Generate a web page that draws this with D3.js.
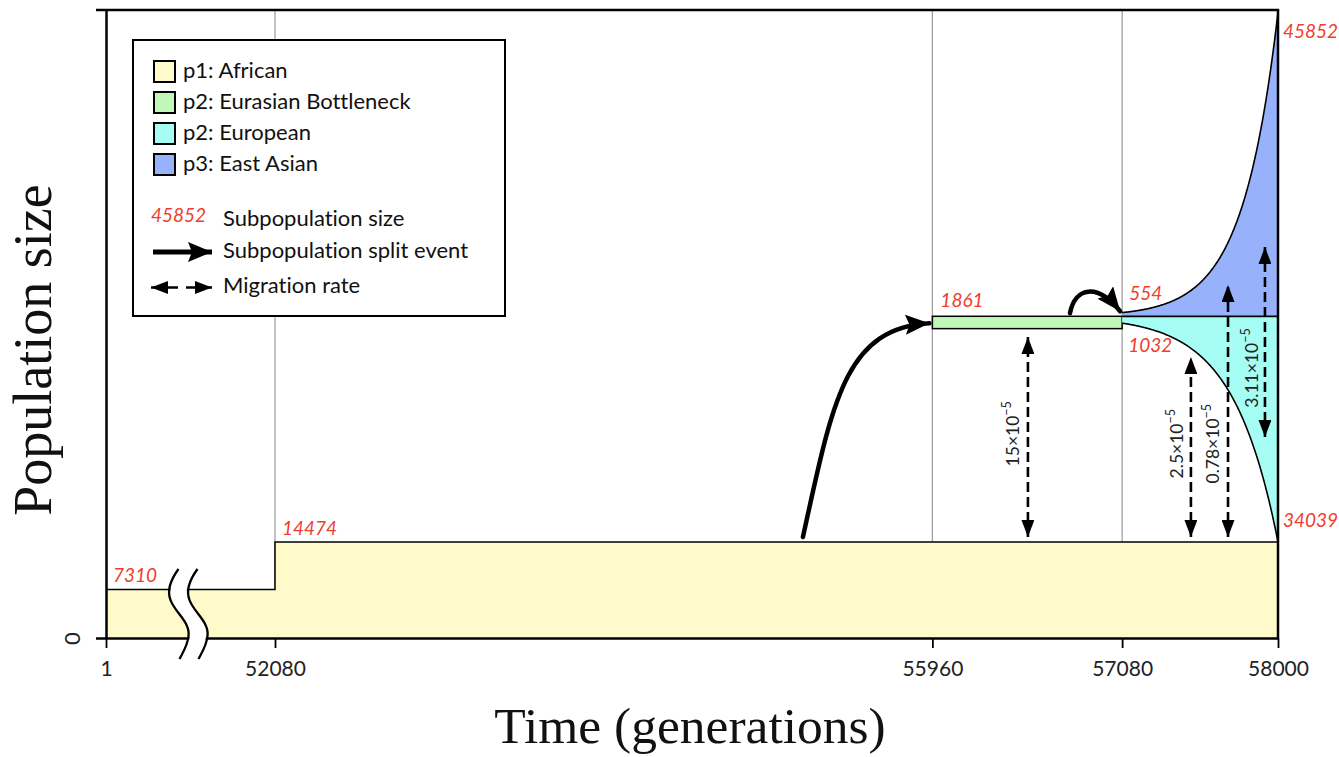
<!DOCTYPE html>
<html>
<head>
<meta charset="utf-8">
<script src="https://cdn.jsdelivr.net/npm/d3@7"></script>
<style>
  html, body { margin: 0; padding: 0; background: #fff; }
  svg { display: block; }
  text { font-variant-ligatures: none; font-feature-settings: "liga" 0, "clig" 0; }
  .sans { font-family: Lato, "Noto Sans", sans-serif; }
  .serif { font-family: "Liberation Serif", "DejaVu Serif", serif; }
  .size-label { font-family: Lato, "Noto Sans", sans-serif; font-style: italic; fill: #ef3e2c; font-size: 19px; }
</style>
</head>
<body>
<script>
// ---- Model data ----------------------------------------------------------
const tickTimes = [1, 52080, 55960, 57080, 58000];          // generation boundaries
const p1Times = [1, 52080, 58000];                          // p1 epochs (step)
const p1Sizes = [7310, 14474, 14474];
const bottleneckTimes = [55960, 57080];                     // p2 Eurasian bottleneck
const bottleneckSize = 1861;
const growthTimes = [57080, 58000];                         // exponential growth phase
const europeanSizes = [1032, 34039];                        // p2: European
const eastAsianSizes = [554, 45852];                        // p3: East Asian
const migrationRates = ["15", "2.5", "0.78", "3.11"];       // ×10^-5
const legendNames = ["p1: African", "p2: Eurasian Bottleneck", "p2: European", "p3: East Asian"];
const legendColors = ["#fffac9", "#c0f8b8", "#a6fdf4", "#97b2fb"];

// ---- Layout --------------------------------------------------------------
const W = 1339, H = 757;
const svg = d3.select("body").append("svg").attr("width", W).attr("height", H);

const yMax = 94700;
const x = d3.scaleLinear().domain([1, 52080, 58000]).range([106, 275, 1278]);
const y = d3.scaleLinear().domain([0, yMax]).range([638, 10]);

// p2 / p3 share a baseline that sits on top of the final p1 + European size
const base = p1Sizes[p1Sizes.length - 1] + europeanSizes[1];

// exponential growth between the two stated sizes
function growth(sizes) {
  const r = Math.log(sizes[1] / sizes[0]) / (growthTimes[1] - growthTimes[0]);
  return t => sizes[0] * Math.exp(r * (t - growthTimes[0]));
}
const gEur = growth(europeanSizes), gEas = growth(eastAsianSizes);
const tSteps = d3.range(growthTimes[0], growthTimes[1], 4).concat([growthTimes[1]]);

// ---- Grid lines ----------------------------------------------------------
svg.append("g").selectAll("line")
  .data(tickTimes.slice(1, 4))
  .join("line")
  .attr("x1", d => x(d)).attr("x2", d => x(d))
  .attr("y1", y(yMax)).attr("y2", y(0))
  .attr("stroke", "#9a9a9a").attr("stroke-width", 1.2);

// ---- p1: African ---------------------------------------------------------
const p1Data = p1Times.map((t, i) => ({ t, n: p1Sizes[i] }));
svg.append("path")
  .datum(p1Data)
  .attr("d", d3.area().curve(d3.curveStepAfter).x(d => x(d.t)).y0(y(0)).y1(d => y(d.n)))
  .attr("fill", legendColors[0]);
svg.append("path")
  .datum(p1Data)
  .attr("d", d3.line().curve(d3.curveStepAfter).x(d => x(d.t)).y(d => y(d.n)))
  .attr("fill", "none").attr("stroke", "#000").attr("stroke-width", 1.5);

// ---- p2: Eurasian bottleneck ---------------------------------------------
svg.append("rect")
  .attr("x", x(bottleneckTimes[0]))
  .attr("y", y(base))
  .attr("width", x(bottleneckTimes[1]) - x(bottleneckTimes[0]))
  .attr("height", y(base - bottleneckSize) - y(base))
  .attr("fill", legendColors[1]).attr("stroke", "#000").attr("stroke-width", 1.5);

// ---- p2: European (grows downward) & p3: East Asian (grows upward) -------
svg.append("path")
  .datum(tSteps)
  .attr("d", d3.area().x(t => x(t)).y0(y(base)).y1(t => y(base - gEur(t))))
  .attr("fill", legendColors[2]);
svg.append("path")
  .datum(tSteps)
  .attr("d", d3.area().x(t => x(t)).y0(y(base)).y1(t => y(base + gEas(t))))
  .attr("fill", legendColors[3]);
svg.append("path")
  .datum(tSteps)
  .attr("d", d3.line().x(t => x(t)).y(t => y(base - gEur(t))))
  .attr("fill", "none").attr("stroke", "#000").attr("stroke-width", 1.6);
svg.append("path")
  .datum(tSteps)
  .attr("d", d3.line().x(t => x(t)).y(t => y(base + gEas(t))))
  .attr("fill", "none").attr("stroke", "#000").attr("stroke-width", 1.6);
svg.append("line")
  .attr("x1", x(growthTimes[0])).attr("x2", x(growthTimes[1]))
  .attr("y1", y(base)).attr("y2", y(base))
  .attr("stroke", "#000").attr("stroke-width", 1.8);

// ---- Frame & axes --------------------------------------------------------
const frame = svg.append("g").attr("stroke", "#000").attr("stroke-width", 2.5).attr("fill", "none");
frame.append("line").attr("x1", 96).attr("x2", x(58000) + 1.2).attr("y1", y(yMax)).attr("y2", y(yMax));
frame.append("line").attr("x1", x(58000)).attr("x2", x(58000)).attr("y1", y(yMax)).attr("y2", y(0));

const xAxis = svg.append("g")
  .attr("transform", `translate(0,${y(0)})`)
  .call(d3.axisBottom(x).tickValues(tickTimes).tickFormat(d3.format("d")).tickSize(10).tickSizeOuter(0).tickPadding(13));
xAxis.select(".domain").attr("stroke-width", 2.5);
xAxis.selectAll(".tick line").attr("stroke-width", 1.8);
xAxis.selectAll(".tick text").attr("class", "sans").attr("font-size", 21).attr("fill", "#222");

const yAxis = svg.append("g")
  .attr("transform", `translate(${x(1)},0)`)
  .call(d3.axisLeft(y).tickValues([0]).tickSize(10).tickSizeOuter(0).tickPadding(0));
yAxis.select(".domain").attr("stroke-width", 2.5);
yAxis.selectAll(".tick line").attr("stroke-width", 2.5);
yAxis.selectAll(".tick text")
  .attr("class", "sans").attr("font-size", 22).attr("fill", "#222")
  .attr("x", 0).attr("dy", 0).attr("text-anchor", "middle")
  .attr("transform", "translate(-26,0) rotate(-90)")
  .attr("y", 0);

// ---- Axis break symbol ---------------------------------------------------
const bx = (x(1) + x(52080)) / 2;
const wave = dx => {
  const p = d3.path();
  p.moveTo(bx + dx - 6, 569);
  p.bezierCurveTo(bx + dx - 14, 580, bx + dx - 18, 590, bx + dx - 14, 600);
  p.bezierCurveTo(bx + dx - 10, 612, bx + dx + 6, 622, bx + dx + 4, 636);
  p.bezierCurveTo(bx + dx + 3, 646, bx + dx - 2, 653, bx + dx - 5, 659);
  return p.toString();
};
svg.append("path").attr("d", wave(3.5)).attr("fill", "none").attr("stroke", "#fff").attr("stroke-width", 16);
svg.append("path").attr("d", wave(-6)).attr("fill", "none").attr("stroke", "#000").attr("stroke-width", 2.3);
svg.append("path").attr("d", wave(13)).attr("fill", "none").attr("stroke", "#000").attr("stroke-width", 2.3);

// ---- Arrow markers -------------------------------------------------------
const defs = svg.append("defs");
defs.append("marker").attr("id", "bigHead")
  .attr("viewBox", "0 0 24 20").attr("refX", 24).attr("refY", 10)
  .attr("markerUnits", "userSpaceOnUse").attr("markerWidth", 24).attr("markerHeight", 20)
  .attr("orient", "auto")
  .append("path").attr("d", "M0,0 L24,10 L0,20 L4,10 Z").attr("fill", "#000");
defs.append("marker").attr("id", "smallHead")
  .attr("viewBox", "0 0 17 13").attr("refX", 17).attr("refY", 6.5)
  .attr("markerUnits", "userSpaceOnUse").attr("markerWidth", 17).attr("markerHeight", 13)
  .attr("orient", "auto-start-reverse")
  .append("path").attr("d", "M0,0 L17,6.5 L0,13 Z").attr("fill", "#000");

// ---- Split events --------------------------------------------------------
const splitFromAfrica = d3.path();
splitFromAfrica.moveTo(x(55196), y(p1Sizes[2]) - 5);
splitFromAfrica.bezierCurveTo(x(55373), y(base) + 84, x(55444), y(base) + 12, x(55960) - 3, y(base) + 7);
svg.append("path").attr("d", splitFromAfrica.toString())
  .attr("fill", "none").attr("stroke", "#000").attr("stroke-width", 4.5)
  .attr("stroke-linecap", "round").attr("marker-end", "url(#bigHead)");

const splitEastAsia = d3.path();
splitEastAsia.moveTo(x(56772), y(base) - 3);
splitEastAsia.bezierCurveTo(x(56802), y(base) - 30, x(56938), y(base) - 33, x(57080) - 2, y(base) - 5);
svg.append("path").attr("d", splitEastAsia.toString())
  .attr("fill", "none").attr("stroke", "#000").attr("stroke-width", 4.5)
  .attr("stroke-linecap", "round").attr("marker-end", "url(#bigHead)");

// ---- Migration arrows ----------------------------------------------------
const migration = [
  { t: 56524, from: 15231, to: 45390, mid: 30800, lx: -9 },
  { t: 57486, from: 15231, to: 42374, mid: 29300, lx: -8 },
  { t: 57705, from: 15231, to: 53232, mid: 29300, lx: -9 },
  { t: 57923, from: 30310, to: 58962, mid: 40700, lx: -7 }
].map((d, i) => ({ ...d, rate: migrationRates[i] }));

const mig = svg.append("g").selectAll("g").data(migration).join("g");
mig.append("line")
  .attr("x1", d => x(d.t)).attr("x2", d => x(d.t))
  .attr("y1", d => y(d.from)).attr("y2", d => y(d.to))
  .attr("stroke", "#000").attr("stroke-width", 2.6).attr("stroke-dasharray", "10,5")
  .attr("marker-start", "url(#smallHead)").attr("marker-end", "url(#smallHead)");
const migText = mig.append("text")
  .attr("class", "sans").attr("font-size", 17.5).attr("fill", "#222")
  .attr("text-anchor", "middle")
  .attr("transform", d => `translate(${x(d.t) + d.lx},${y(d.mid)}) rotate(-90)`);
migText.append("tspan").text(d => d.rate + "×10");
migText.append("tspan").attr("dy", -8).attr("font-size", 12.5).text("−5");

// ---- Size labels ---------------------------------------------------------
const sizeLabels = [
  { v: p1Sizes[0], px: x(1) + 7, py: y(p1Sizes[0]) - 8 },
  { v: p1Sizes[1], px: x(52080) + 7, py: y(p1Sizes[1]) - 7 },
  { v: bottleneckSize, px: x(55960) + 8, py: y(base) - 9 },
  { v: eastAsianSizes[0], px: x(57080) + 7, py: y(base) - 16 },
  { v: europeanSizes[0], px: x(57080) + 6, py: y(base - bottleneckSize) + 23 },
  { v: eastAsianSizes[1], px: x(58000) + 5, py: y(base + eastAsianSizes[1]) + 26 },
  { v: europeanSizes[1], px: x(58000) + 5, py: y(p1Sizes[2]) - 15 }
];
svg.append("g").selectAll("text").data(sizeLabels).join("text")
  .attr("class", "size-label")
  .attr("x", d => d.px).attr("y", d => d.py)
  .text(d => d.v);

// ---- Legend --------------------------------------------------------------
const lg = svg.append("g").attr("transform", "translate(133,40)");
lg.append("rect").attr("width", 372).attr("height", 276)
  .attr("fill", "#fff").attr("stroke", "#000").attr("stroke-width", 2);
const rows = lg.selectAll("g.row").data(legendNames).join("g")
  .attr("class", "row")
  .attr("transform", (d, i) => `translate(21,${21 + i * 31})`);
rows.append("rect").attr("width", 21).attr("height", 21)
  .attr("fill", (d, i) => legendColors[i]).attr("stroke", "#000").attr("stroke-width", 2);
rows.append("text").attr("class", "sans").attr("x", 29).attr("y", 17)
  .attr("font-size", 22).attr("fill", "#111").text(d => d);

lg.append("text").attr("class", "size-label").attr("x", 18).attr("y", 182).text(eastAsianSizes[1]);
lg.append("text").attr("class", "sans").attr("x", 90).attr("y", 186)
  .attr("font-size", 22).attr("fill", "#111").text("Subpopulation size");

lg.append("line").attr("x1", 20).attr("x2", 79).attr("y1", 212).attr("y2", 212)
  .attr("stroke", "#000").attr("stroke-width", 5).attr("marker-end", "url(#bigHead)");
lg.append("text").attr("class", "sans").attr("x", 90).attr("y", 218)
  .attr("font-size", 22).attr("fill", "#111").text("Subpopulation split event");

lg.append("line").attr("x1", 18).attr("x2", 79).attr("y1", 247.5).attr("y2", 247.5)
  .attr("stroke", "#000").attr("stroke-width", 2.6).attr("stroke-dasharray", "27,8")
  .attr("marker-start", "url(#smallHead)").attr("marker-end", "url(#smallHead)");
lg.append("text").attr("class", "sans").attr("x", 90).attr("y", 253)
  .attr("font-size", 22).attr("fill", "#111").text("Migration rate");

// ---- Axis titles ---------------------------------------------------------
svg.append("text").attr("class", "serif")
  .attr("x", 690).attr("y", 743).attr("text-anchor", "middle")
  .attr("font-size", 51.5).attr("fill", "#111").text("Time (generations)");
svg.append("text").attr("class", "serif")
  .attr("transform", "translate(51,350) rotate(-90)").attr("text-anchor", "middle")
  .attr("font-size", 54).attr("fill", "#111").text("Population size");
</script>
</body>
</html>
